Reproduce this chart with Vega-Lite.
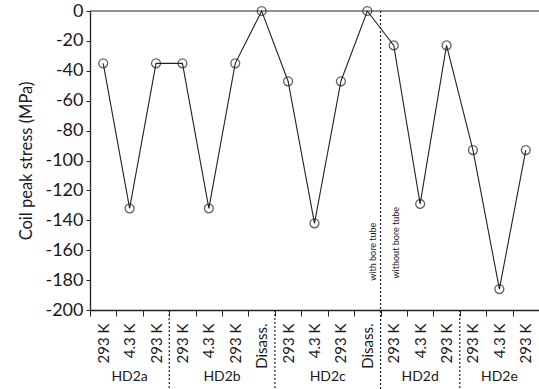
{
  "$schema": "https://vega.github.io/schema/vega-lite/v6.json",
  "width": 449,
  "height": 299,
  "autosize": {"type": "none"},
  "padding": {"left": 90, "top": 11, "right": 0, "bottom": 79},
  "background": "white",
  "config": {
    "view": {"stroke": null},
    "font": "Lato",
    "axisY": {
      "values": [-200, -180, -160, -140, -120, -100, -80, -60, -40, -20, 0],
      "labelExpr": "'' + datum.value",
      "labelOverlap": false,
      "labelFlush": false,
      "labelBaseline": "middle",
      "grid": false,
      "domainColor": "#222",
      "domainWidth": 1.3,
      "tickColor": "#222",
      "tickSize": 4,
      "labelFontSize": 18,
      "labelColor": "#1a1a1a",
      "labelPadding": 3,
      "titleFontSize": 16.5,
      "titleFontWeight": "normal",
      "titleColor": "#1a1a1a",
      "titlePadding": 10
    }
  },
  "datasets": {
    "pts": [
      {"id": "1|293 K", "stress": -35},
      {"id": "2|4.3 K", "stress": -132},
      {"id": "3|293 K", "stress": -35},
      {"id": "4|293 K", "stress": -35},
      {"id": "5|4.3 K", "stress": -132},
      {"id": "6|293 K", "stress": -35},
      {"id": "7|Disass.", "stress": 0},
      {"id": "8|293 K", "stress": -47},
      {"id": "9|4.3 K", "stress": -142},
      {"id": "10|293 K", "stress": -47},
      {"id": "11|Disass.", "stress": 0},
      {"id": "12|293 K", "stress": -23},
      {"id": "13|4.3 K", "stress": -129},
      {"id": "14|293 K", "stress": -23},
      {"id": "15|293 K", "stress": -93},
      {"id": "16|4.3 K", "stress": -186},
      {"id": "17|293 K", "stress": -93}
    ],
    "seps": [
      {"bx": 3, "y1": -200, "y2": -253},
      {"bx": 7, "y1": -200, "y2": -253},
      {"bx": 11, "y1": 0, "y2": -253},
      {"bx": 14, "y1": -200, "y2": -253}
    ],
    "groups": [
      {"gx": 1.5, "gy": -245, "name": "HD2a"},
      {"gx": 5, "gy": -245, "name": "HD2b"},
      {"gx": 9, "gy": -245, "name": "HD2c"},
      {"gx": 12.5, "gy": -245, "name": "HD2d"},
      {"gx": 15.5, "gy": -245, "name": "HD2e"}
    ],
    "notes": [
      {"nx": 10.72, "ny": -161, "note": "with bore tube"},
      {"nx": 11.6, "ny": -155, "note": "without bore tube"}
    ]
  },
  "resolve": {"scale": {"x": "independent"}},
  "layer": [
    {
      "data": {"name": "pts"},
      "mark": {"type": "line", "color": "#222", "strokeWidth": 1.1},
      "encoding": {
        "x": {"field": "id", "type": "nominal", "sort": null,
          "scale": {"type": "band", "paddingInner": 0, "paddingOuter": 0},
          "axis": {
            "title": null,
            "labelExpr": "split(datum.label, '|')[1]",
            "labelAngle": -90,
            "labelFontSize": 15,
            "labelColor": "#1a1a1a",
            "labelPadding": 7,
            "tickBand": "extent",
            "tickSize": 6,
            "tickColor": "#222",
            "domainColor": "#222",
            "domainWidth": 1.3
          }
        },
        "y": {"field": "stress", "type": "quantitative",
          "scale": {"domain": [-200, 0], "nice": false, "zero": false},
          "axis": {"title": "Coil peak stress (MPa)", "labelOverlap": false, "tickCount": 11}}
      }
    },
    {
      "data": {"values": [{"z": 0}]},
      "mark": {"type": "rule", "color": "#222", "strokeWidth": 1.2},
      "encoding": {
        "y": {"field": "z", "type": "quantitative"}
      }
    },
    {
      "data": {"name": "pts"},
      "mark": {"type": "point", "shape": "circle", "filled": false, "color": "#222", "size": 80, "strokeWidth": 1.3},
      "encoding": {
        "x": {"field": "id", "type": "nominal", "sort": null,
          "scale": {"type": "band", "paddingInner": 0, "paddingOuter": 0},
          "axis": null},
        "y": {"field": "stress", "type": "quantitative"}
      }
    },
    {
      "data": {"name": "seps"},
      "mark": {"type": "rule", "color": "#222", "strokeWidth": 1.2, "strokeDash": [2, 2]},
      "encoding": {
        "x": {"field": "bx", "type": "quantitative", "scale": {"domain": [0, 17], "nice": false, "zero": false}, "axis": null},
        "y": {"field": "y1", "type": "quantitative"},
        "y2": {"field": "y2"}
      }
    },
    {
      "data": {"name": "groups"},
      "mark": {"type": "text", "fontSize": 14, "color": "#1a1a1a", "baseline": "middle", "align": "center"},
      "encoding": {
        "x": {"field": "gx", "type": "quantitative", "scale": {"domain": [0, 17], "nice": false, "zero": false}, "axis": null},
        "y": {"field": "gy", "type": "quantitative"},
        "text": {"field": "name"}
      }
    },
    {
      "data": {"name": "notes"},
      "mark": {"type": "text", "fontSize": 9, "color": "#1a1a1a", "baseline": "middle", "align": "center", "angle": 270},
      "encoding": {
        "x": {"field": "nx", "type": "quantitative", "scale": {"domain": [0, 17], "nice": false, "zero": false}, "axis": null},
        "y": {"field": "ny", "type": "quantitative"},
        "text": {"field": "note"}
      }
    }
  ]
}
